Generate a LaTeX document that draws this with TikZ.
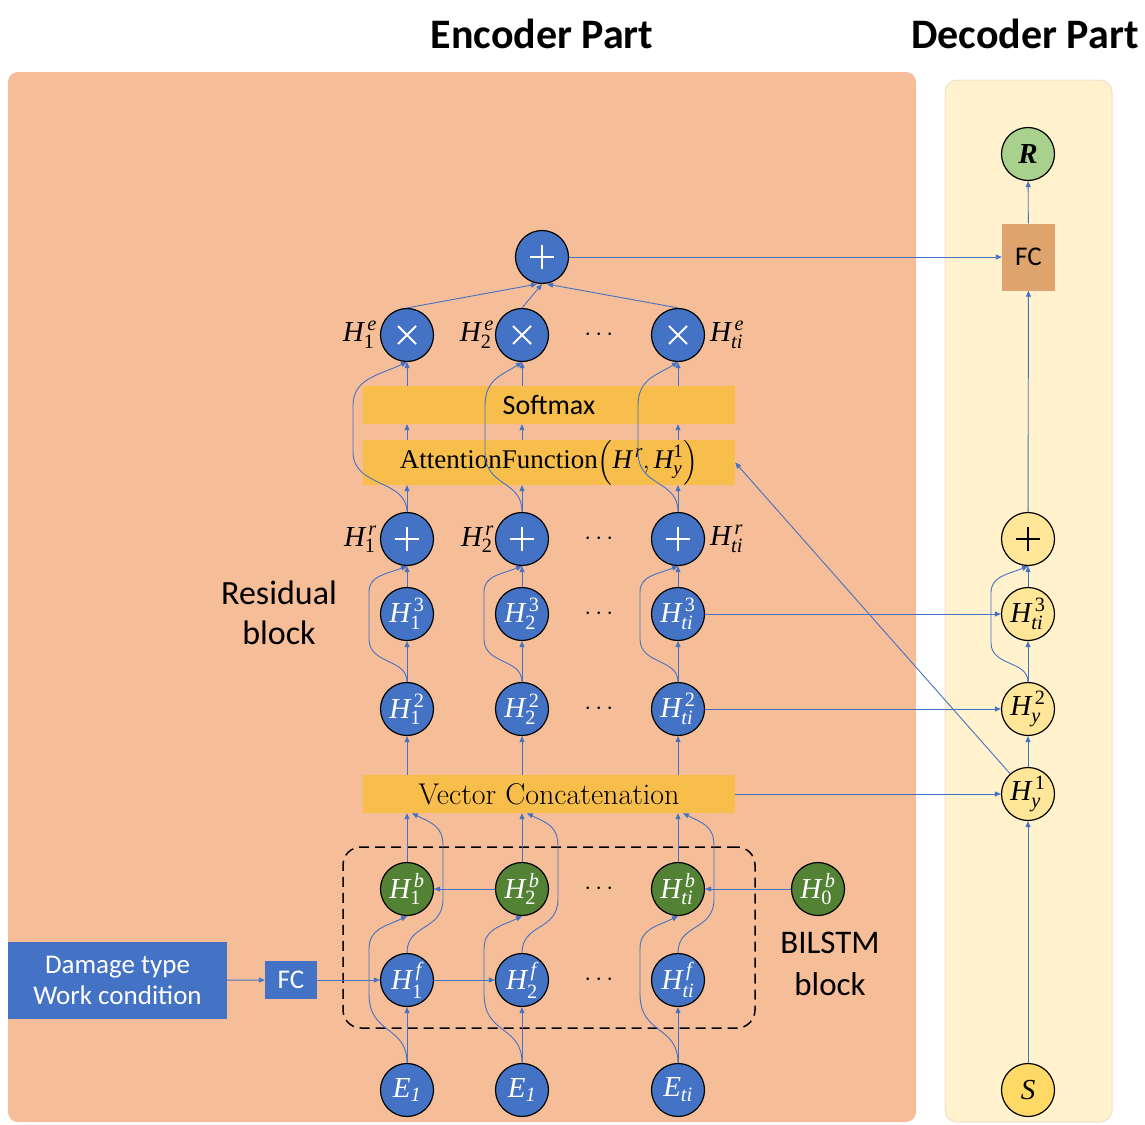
\documentclass[tikz,border=0pt]{standalone}
\usepackage{amsmath}
\usepackage{fontspec}
\newfontfamily\calib{Carlito}
\newfontfamily\tnr{Liberation Serif}
\usetikzlibrary{arrows.meta,calc}
\definecolor{encbg}{HTML}{F5BD98}
\definecolor{decbg}{HTML}{FFF2CC}
\definecolor{decbd}{HTML}{EDE3CC}
\definecolor{barc}{HTML}{F8BE4B}
\definecolor{nblue}{HTML}{4472C4}
\definecolor{ngreen}{HTML}{548235}
\definecolor{lgreen}{HTML}{A9D18E}
\definecolor{nyellow}{HTML}{FFE699}
\definecolor{syellow}{HTML}{FFD966}
\definecolor{fcbrown}{HTML}{DFA36D}
\definecolor{ablue}{HTML}{4472C4}
\newcommand\Hv[3]{$\text{\tnr\itshape H}^{\,\text{\tnr #2}}_{\text{\tnr #3}}$}
\newcommand\sbend[6]{\draw[arr] (#1) .. controls ($(#1)+(0pt,{0.55*#4})$) and ($(#1)+(#3,{0.4*#4})$) .. ($(#1)+(#3,#4)$) -- ($(#1)+(#3,#5)$) .. controls ($(#1)+(#3,{#5+0.6*#6})$) and ($(#2)+({0.55*#3},{-0.3*#6})$) .. (#2);}
\tikzset{
 nd/.style={circle,draw=black,line width=1.2pt,minimum size=53pt,inner sep=0pt,font=\fontsize{29}{29}\selectfont},
 bnode/.style={nd,fill=nblue,text=white},
 gnode/.style={nd,fill=ngreen,text=white},
 ynode/.style={nd,fill=nyellow,text=black},
 barbox/.style={fill=barc,minimum width=372pt,minimum height=38pt,inner sep=0pt},
 arr/.style={draw=ablue,line width=0.9pt,-{Triangle[length=6pt,width=5pt]}},
 lab/.style={font=\fontsize{29}{29}\selectfont,inner sep=1pt},
 dotsl/.style={font=\fontsize{28}{28}\selectfont,inner sep=0pt},
 plussym/.style={path picture={\draw[#1,line width=1.8pt] ([xshift=-12pt]path picture bounding box.center) -- ([xshift=12pt]path picture bounding box.center) ([yshift=-12pt]path picture bounding box.center) -- ([yshift=12pt]path picture bounding box.center);}},
 timessym/.style={path picture={\draw[white,line width=1.8pt] ([shift={(-9pt,-9pt)}]path picture bounding box.center) -- ([shift={(9pt,9pt)}]path picture bounding box.center) ([shift={(-9pt,9pt)}]path picture bounding box.center) -- ([shift={(9pt,-9pt)}]path picture bounding box.center);}},
}
\begin{document}
\begin{tikzpicture}[x=1pt,y=-1pt]
\useasboundingbox (0,0) rectangle (1145,1124);
% panels
\path[fill=encbg,rounded corners=10pt] (8,72) rectangle (916,1122);
\path[fill=decbg,draw=decbd,line width=1pt,rounded corners=12pt] (945,80) rectangle (1112,1122);
% titles
\node[font=\calib\bfseries\fontsize{42}{42}\selectfont] (tenc) at (542,34) {Encoder Part};
\node[font=\calib\bfseries\fontsize{42}{42}\selectfont] (tdec) at (1025,34) {Decoder Part};
% side texts
\node[align=center,font=\calib\fontsize{34}{40}\selectfont] (res) at (279,613) {Residual\\block};
\node[align=center,font=\calib\fontsize{33}{42}\selectfont] (bil) at (830,964) {BILSTM\\block};
% dashed block
\node[draw=black,dashed,dash pattern=on 10pt off 6pt,line width=1.5pt,rounded corners=18pt,minimum width=412pt,minimum height=181pt,inner sep=0pt] (bbox) at (549,937.5) {};
% bars
\node[barbox] (soft) at (549,405) {\calib\fontsize{28}{28}\selectfont Softmax};
\node[barbox,minimum height=37pt] (att) at (549,462.5) {\fontsize{27}{27}\selectfont\tnr AttentionFunction$\left(\text{\tnr\itshape H}^{\,\text{\tnr\itshape r}},\text{\tnr\itshape H}^{\text{\tnr 1}}_{\text{\tnr\itshape y}}\right)$};
\node[barbox] (vc) at (549,794) {\fontsize{30}{30}\selectfont Vector Concatenation};
% input boxes
\node[fill=nblue,text=white,minimum width=219pt,minimum height=77pt,inner sep=0pt,align=center,font=\calib\fontsize{27}{31}\selectfont] (dmg) at (117.5,980.5) {Damage type\\Work condition};
\node[fill=nblue,text=white,minimum width=52pt,minimum height=38pt,inner sep=0pt,font=\calib\fontsize{27}{27}\selectfont] (fc1) at (291,980) {FC};
% encoder columns
\foreach \i/\x/\s/\es in {1/407/1/1,2/522/2/1,3/678/{\itshape ti}/ti}{
  \node[bnode] (e\i) at (\x,1090) {$\text{\tnr\itshape E}_{\text{\tnr\itshape \es}}$};
  \node[bnode] (hf\i) at (\x,980) {\Hv{H}{\itshape f}{\s}};
  \node[gnode] (hb\i) at (\x,889) {\Hv{H}{\itshape b}{\s}};
  \node[bnode] (htwo\i) at (\x,709) {\Hv{H}{2}{\s}};
  \node[bnode] (hthree\i) at (\x,614) {\Hv{H}{3}{\s}};
  \node[bnode,plussym=white] (pr\i) at (\x,539) {};
  \node[bnode,timessym] (m\i) at (\x,335) {};
}
\node[gnode] (h0b) at (818,889) {\Hv{H}{\itshape b}{0}};
\node[bnode,plussym=white] (tp) at (542,257) {};
% labels
\node[lab,anchor=east] (le1) at (378,335) {\Hv{H}{\itshape e}{1}};
\node[lab,anchor=east] (le2) at (495,335) {\Hv{H}{\itshape e}{2}};
\node[lab,anchor=west] (le3) at (709,335) {\Hv{H}{\itshape e}{\itshape ti}};
\node[lab,anchor=east] (lr1) at (378,539) {\Hv{H}{\itshape r}{1}};
\node[lab,anchor=east] (lr2) at (495,539) {\Hv{H}{\itshape r}{2}};
\node[lab,anchor=west] (lr3) at (709,539) {\Hv{H}{\itshape r}{\itshape ti}};
% dots
\foreach \yy [count=\k] in {335,539,614,709,889,980}{
  \node[dotsl] (dots\k) at (601,\yy) {$\cdots$};
}
% decoder nodes
\node[nd,fill=lgreen] (rr) at (1028,154) {\tnr\bfseries\itshape R};
\node[fill=fcbrown,minimum width=53pt,minimum height=67pt,inner sep=0pt,font=\calib\fontsize{27}{27}\selectfont] (fcd) at (1028.5,257) {FC};
\node[ynode,plussym=black] (dplus) at (1028,539) {};
\node[ynode] (dh3) at (1028,614) {\Hv{H}{3}{\itshape ti}};
\node[ynode] (dh2) at (1028,709) {\Hv{H}{2}{\itshape y}};
\node[ynode] (dh1) at (1028,794) {\Hv{H}{1}{\itshape y}};
\node[nd,fill=syellow] (ss) at (1028,1090) {\tnr\itshape S};
% encoder connectors
\draw[arr] (dmg) -- (fc1);
\draw[arr] (fc1) -- (hf1);
\draw[arr] (hf1) -- (hf2);
\draw[arr] (hb2) -- (hb1);
\draw[arr] (h0b) -- (hb3);
\foreach \i in {1,2,3}{
  \draw[arr] (e\i) -- (hf\i);
  \sbend{e\i.north}{hb\i.south}{-38pt}{69pt}{114pt}{34pt}
  \draw[arr] (hb\i.north) -- (hb\i.north |- vc.south);
  \coordinate (vcin\i) at ($(hf\i.north |- vc.south)+(5pt,0pt)$);
  \sbend{hf\i.north}{vcin\i}{36pt}{54pt}{107pt}{33pt}
  \draw[arr] (vc.north -| htwo\i) -- (htwo\i);
  \draw[arr] (htwo\i) -- (hthree\i);
  \draw[arr] (hthree\i) -- (pr\i);
  \sbend{htwo\i.north}{pr\i.south}{-38pt}{43pt}{90pt}{27pt}
  \draw[arr] (pr\i.north) -- (pr\i.north |- att.south);
  \draw[arr] (att.north -| pr\i) -- (soft.south -| pr\i);
  \draw[arr] (soft.north -| m\i) -- (m\i);
}
\sbend{pr1.north}{m1.south}{-54pt}{60pt}{106pt}{45pt}
\sbend{pr2.north}{m2.south}{-37pt}{60pt}{106pt}{45pt}
\sbend{pr3.north}{m3.south}{-40pt}{60pt}{106pt}{45pt}
\draw[arr] (m1.north) -- ([xshift=-5pt]tp.south);
\draw[arr] (m2.north) -- (tp.south);
\draw[arr] (m3.north) -- ([xshift=5pt]tp.south);
% encoder to decoder
\draw[arr] (tp) -- (fcd);
\draw[arr] (hthree3) -- (dh3);
\draw[arr] (htwo3) -- (dh2);
\draw[arr] (vc.east) -- (dh1);
\draw[arr] (dh1) -- (att.east);
% decoder connectors
\draw[arr] (ss) -- (dh1);
\draw[arr] (dh1) -- (dh2);
\draw[arr] (dh2) -- (dh3);
\draw[arr] (dh3) -- (dplus);
\sbend{dh2.north}{dplus.south}{-37pt}{39pt}{89pt}{28pt}
\draw[arr] (dplus) -- (fcd);
\draw[arr] (fcd) -- (rr);
\end{tikzpicture}
\end{document}
